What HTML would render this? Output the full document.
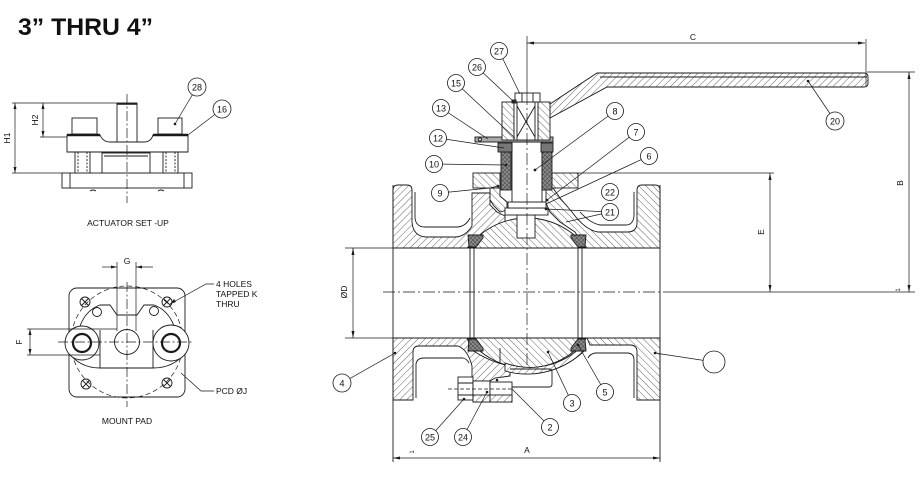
<!DOCTYPE html>
<html><head><meta charset="utf-8"><style>
html,body{margin:0;padding:0;background:#fff;}
svg{display:block;}
text{font-family:"Liberation Sans",Arial,sans-serif;fill:#111;}
</style></head><body>
<svg width="920" height="478" viewBox="0 0 920 478" xmlns="http://www.w3.org/2000/svg">
<defs>
<pattern id="hf" width="5" height="5" patternUnits="userSpaceOnUse" patternTransform="rotate(45)"><rect width="5" height="5" fill="#fff"/><line x1="0" y1="0" x2="0" y2="5" stroke="#222" stroke-width="0.7"/></pattern>
<pattern id="hb" width="5" height="5" patternUnits="userSpaceOnUse" patternTransform="rotate(-45)"><rect width="5" height="5" fill="#fff"/><line x1="0" y1="0" x2="0" y2="5" stroke="#222" stroke-width="0.7"/></pattern>
<pattern id="dk" width="3" height="3" patternUnits="userSpaceOnUse" patternTransform="rotate(45)"><rect width="3" height="3" fill="#8a8a8a"/><line x1="0" y1="0" x2="0" y2="3" stroke="#333" stroke-width="0.8"/><line x1="0" y1="0" x2="3" y2="0" stroke="#333" stroke-width="0.8"/></pattern>
</defs>
<rect width="920" height="478" fill="#fff"/>

<text x="18" y="35" font-size="24" font-weight="bold" textLength="135" lengthAdjust="spacingAndGlyphs">3” THRU 4”</text>

<!-- ============ ACTUATOR SET-UP ============ -->
<g stroke="#1a1a1a" stroke-width="0.9" fill="none">
  <rect x="62" y="173" width="130" height="15" fill="#fff"/>
  <line x1="70" y1="173" x2="70" y2="188"/>
  <line x1="184" y1="173" x2="184" y2="188"/>
  <path d="M90,191 q3,-2 6,0 M158,191 q3,-2 6,0"/>
  <rect x="102" y="153" width="48" height="20" fill="#fff"/>
  <line x1="104" y1="156" x2="148" y2="156"/>
  <rect x="75" y="152" width="15" height="21" fill="#fff"/>
  <line x1="78" y1="152" x2="78" y2="173" stroke-dasharray="2,1.5"/>
  <line x1="87" y1="152" x2="87" y2="173" stroke-dasharray="2,1.5"/>
  <rect x="163" y="152" width="15" height="21" fill="#fff"/>
  <line x1="166" y1="152" x2="166" y2="173" stroke-dasharray="2,1.5"/>
  <line x1="175" y1="152" x2="175" y2="173" stroke-dasharray="2,1.5"/>
  <rect x="117" y="103" width="20" height="40" fill="#fff"/>
  <line x1="117" y1="104" x2="137" y2="104" stroke-width="1.6"/>
  <path d="M67,135 L100,135 Q103,142 110,142 L144,142 Q151,142 153,135 L188,135 L188,152 L67,152 Z" fill="#fff"/>
  <line x1="67" y1="135" x2="100" y2="135" stroke-width="2.6"/>
  <line x1="153" y1="135" x2="188" y2="135" stroke-width="2.6"/>
  <rect x="72" y="118" width="25" height="16" fill="#fff"/>
  <rect x="158" y="118" width="24" height="16" fill="#fff"/>
  <line x1="127" y1="94" x2="127" y2="203" stroke-dasharray="10,2.5,2,2.5" stroke-width="0.7"/>
  <line x1="12" y1="103" x2="117" y2="103" stroke-width="0.7"/>
  <line x1="12" y1="173" x2="62" y2="173" stroke-width="0.7"/>
  <line x1="40" y1="137" x2="67" y2="137" stroke-width="0.7"/>
  <line x1="15" y1="103" x2="15" y2="173" stroke-width="0.7"/>
  <line x1="43" y1="103" x2="43" y2="137" stroke-width="0.7"/>
  <line x1="197" y1="87" x2="175" y2="124" stroke-width="0.7"/>
  <line x1="222" y1="109" x2="188" y2="135" stroke-width="0.7"/>
</g>
<g fill="#1a1a1a">
  <polygon points="15,103 13.5,109 16.5,109"/><polygon points="15,173 13.5,167 16.5,167"/>
  <polygon points="43,103 41.5,109 44.5,109"/><polygon points="43,137 41.5,131 44.5,131"/>
  <circle cx="175" cy="124" r="1.3"/>
</g>
<text x="10" y="138" font-size="8.5" text-anchor="middle" transform="rotate(-90 10 138)">H1</text>
<text x="38" y="120" font-size="8.5" text-anchor="middle" transform="rotate(-90 38 120)">H2</text>
<g stroke="#1a1a1a" stroke-width="0.8" fill="#fff">
  <circle cx="197" cy="87" r="9"/><circle cx="222" cy="109" r="9"/>
</g>
<text x="197" y="90.5" font-size="9" text-anchor="middle">28</text>
<text x="222" y="112.5" font-size="9" text-anchor="middle">16</text>
<text x="128" y="226" font-size="8.5" text-anchor="middle">ACTUATOR SET -UP</text>

<!-- ============ MOUNT PAD ============ -->
<g stroke="#1a1a1a" stroke-width="0.9" fill="none">
  <rect x="69" y="288" width="116" height="109" rx="8"/>
  <circle cx="127" cy="342" r="56" stroke-dasharray="5,3" stroke-width="0.7"/>
  <circle cx="85" cy="302" r="5"/><path d="M81.5,298.5 L88.5,305.5 M88.5,298.5 L81.5,305.5"/>
  <circle cx="167" cy="302" r="5"/><path d="M163.5,298.5 L170.5,305.5 M170.5,298.5 L163.5,305.5"/>
  <circle cx="86" cy="384" r="5"/><path d="M82.5,380.5 L89.5,387.5 M89.5,380.5 L82.5,387.5"/>
  <circle cx="167" cy="383" r="5"/><path d="M163.5,379.5 L170.5,386.5 M170.5,379.5 L163.5,386.5"/>
  <circle cx="97" cy="312" r="4.5"/><circle cx="154" cy="311" r="4.5"/>
  <path d="M80,326 Q86,310 100,305 L110,305 L117,315 L137,315 L144,305 L154,305 Q168,310 174,326"/>
  <path d="M100,330 L100,368 L153,368 L153,330"/>
  <path d="M68,352 Q80,368 100,368 M186,352 Q174,368 153,368"/>
  <circle cx="82" cy="343" r="17" fill="#fff"/>
  <circle cx="82" cy="343" r="9" stroke-width="2.2"/>
  <circle cx="171" cy="343" r="18" fill="#fff"/>
  <circle cx="171" cy="343" r="9" stroke-width="2.2"/>
  <circle cx="127" cy="342" r="12.5" fill="#fff"/>
  <line x1="58" y1="342" x2="193" y2="342" stroke-dasharray="10,2.5,2,2.5" stroke-width="0.7"/>
  <line x1="127" y1="282" x2="127" y2="407" stroke-dasharray="10,2.5,2,2.5" stroke-width="0.7"/>
  <line x1="117" y1="262" x2="117" y2="331" stroke-width="0.7"/>
  <line x1="136" y1="262" x2="136" y2="331" stroke-width="0.7"/>
  <line x1="102" y1="267" x2="117" y2="267" stroke-width="0.7"/>
  <line x1="136" y1="267" x2="153" y2="267" stroke-width="0.7"/>
  <line x1="27" y1="329" x2="117" y2="329" stroke-width="0.7"/>
  <line x1="27" y1="355" x2="100" y2="355" stroke-width="0.7"/>
  <line x1="30" y1="329" x2="30" y2="355" stroke-width="0.7"/>
  <polyline points="214,284 206,284 170,304" stroke-width="0.7"/>
  <polyline points="214,391 201,391 181,373" stroke-width="0.7"/>
</g>
<g fill="#1a1a1a">
  <polygon points="117,267 111,265.5 111,268.5"/><polygon points="136,267 142,265.5 142,268.5"/>
  <polygon points="30,329 28.5,335 31.5,335"/><polygon points="30,355 28.5,349 31.5,349"/>
  <polygon points="170,304 174,299 176,302"/>
</g>
<text x="127" y="264" font-size="8.5" text-anchor="middle">G</text>
<text x="22" y="342" font-size="8" text-anchor="middle" transform="rotate(-90 22 342)">F</text>
<text x="216" y="287" font-size="8.5">4 HOLES</text>
<text x="216" y="297" font-size="8.5">TAPPED K</text>
<text x="216" y="307" font-size="8.5">THRU</text>
<text x="216" y="394" font-size="8.5">PCD ØJ</text>
<text x="127" y="424" font-size="8.5" text-anchor="middle">MOUNT PAD</text>

<!-- ============ MAIN VALVE ============ -->
<g stroke="#1a1a1a" stroke-width="0.9">
  <path fill="url(#hf)" d="M393,248 L393,190 Q393,185 398,185 L407,185 Q412,185 412,190 L412,222 Q413,236 426,237 L456,237 Q466,236 472,226 L472,193 L490,193 L490,205 L497,212 L505,216 L505,226 L495,232 L484,236 L470,248 Z"/>
  <path fill="url(#hb)" d="M660,248 L660,190 Q660,185 655,185 L642,185 Q637,185 637,190 L637,224 Q636,232 628,232 L598,232 Q585,230 572,212 L560,198 L553,188 L546,188 L546,203 L550,212 L560,222 L575,232 L585,248 Z"/>
  <rect x="473" y="173" width="27" height="15" fill="url(#hb)"/>
  <rect x="552" y="173" width="26" height="15" fill="url(#hb)"/>
  <path fill="url(#hb)" d="M490,188 L500,188 L500,196 L507,202 L507,210 L500,212 L494,206 L490,200 Z"/>
  <path fill="url(#hb)" d="M467.5,248 A74,74 0 0 1 586.5,248 Z"/>
  <path fill="url(#hf)" d="M393,338 L467,338 L472,350 Q490,362 510,366 L510,376 L495,378 L490,381 L472,381 L472,366 Q468,350 458,346 L419,346 Q413,346 413,352 L413,400 L393,400 Z"/>
  <path fill="url(#hb)" d="M660,338 L587,338 L590,345 L630,345 Q637,345 637,352 L637,400 L660,400 Z"/>
  <path fill="url(#hb)" d="M467.5,338 A74,74 0 0 0 586.5,338 Z"/>
  <path fill="url(#hf)" d="M505,363 A74,74 0 0 0 583,345 L586,349 A82,82 0 0 1 505,371 Z"/>
  <path fill="url(#dk)" d="M468,235 L483,235 L483,238 L476,247 L469,247 Z"/>
  <path fill="url(#dk)" d="M586,235 L571,235 L571,238 L578,247 L585,247 Z"/>
  <path fill="url(#dk)" d="M468,351 L483,351 L483,348 L476,339 L469,339 Z"/>
  <path fill="url(#dk)" d="M586,351 L571,351 L571,348 L578,339 L585,339 Z"/>
</g>
<g stroke="#1a1a1a" stroke-width="0.9" fill="none">
  <line x1="393" y1="248" x2="660" y2="248"/>
  <line x1="393" y1="338" x2="660" y2="338"/>
  <line x1="393" y1="185" x2="393" y2="462"/>
  <line x1="660" y1="185" x2="660" y2="462"/>
  <line x1="470" y1="247" x2="470" y2="339"/>
  <line x1="474" y1="247" x2="474" y2="339"/>
  <line x1="578" y1="247" x2="578" y2="339"/>
  <line x1="582" y1="247" x2="582" y2="339"/>
  <path d="M415,192 L415,218 Q416,227 425,227 L458,227 Q466,226 470,218"/>
  <path d="M634,192 L634,216 Q633,225 626,225 L600,225 Q590,223 580,212"/>
  <path d="M416,398 L416,364 Q417,358 424,358 L463,358 Q467,359 469,363"/>
  <path d="M634,398 L634,360 Q634,353 627,353 L595,353 Q590,354 588,358"/>
  <path d="M510,369 L549,369 Q552,369 552,372 L552,384 Q552,387 549,387 L512,387"/>
  <line x1="500" y1="348" x2="500" y2="363"/>
  <rect x="517" y="215" width="18" height="23" fill="#fff"/>
  <rect x="505" y="208" width="43" height="7" fill="#fff"/>
  <rect x="508" y="202" width="38" height="6" fill="#fff"/>
  <rect x="512" y="142" width="30" height="60" fill="#fff"/>
  <rect x="501" y="152" width="10" height="38" fill="url(#dk)"/>
  <rect x="542" y="152" width="10" height="38" fill="url(#dk)"/>
  <rect x="498" y="143" width="14" height="9" fill="#777"/>
  <rect x="541" y="143" width="12" height="9" fill="#777"/>
  <rect x="475" y="137" width="78" height="5" fill="#aaa"/>
  <circle cx="480" cy="139.5" r="1.5" fill="#fff"/>
  <path fill="url(#hf)" d="M550,104 L597,73 L864,73 Q868,73 868,77 L868,83 Q868,87 864,87 L607,87 L550,118 Z"/>
  <line x1="600" y1="77" x2="867" y2="77"/>
  <rect x="502" y="102" width="12" height="38" fill="url(#hb)"/>
  <rect x="538" y="102" width="12" height="38" fill="url(#hb)"/>
  <rect x="514" y="102" width="24" height="38" fill="#fff"/>
  <path d="M517,102 L517,140 M535,102 L535,140 M517,106 L535,137 M535,106 L517,137"/>
  <rect x="515" y="93" width="25" height="9" fill="#fff"/>
  <path d="M522,93 L522,102 M533,93 L533,102"/>
  <rect x="512" y="100" width="4" height="3" fill="#333"/>
  <rect x="458" y="377" width="15" height="23" fill="#fff"/>
  <path d="M458,383 L473,383 M458,395 L473,395"/>
  <rect x="473" y="381" width="17" height="21" fill="#fff"/>
  <rect x="473" y="395" width="17" height="7" fill="url(#hf)"/>
  <rect x="490" y="382" width="22" height="20" fill="#fff"/>
  <rect x="490" y="395" width="22" height="7" fill="url(#hf)"/>
  <line x1="448" y1="389" x2="514" y2="389" stroke-dasharray="4,2" stroke-width="0.7"/>
  <line x1="527" y1="36" x2="527" y2="93" stroke-width="0.7"/>
  <line x1="527" y1="93" x2="527" y2="368" stroke-dasharray="12,3,2,3" stroke-width="0.7"/>
  <line x1="383" y1="292" x2="665" y2="292" stroke-dasharray="12,3,2,3" stroke-width="0.7"/>
  <line x1="665" y1="292" x2="915" y2="292" stroke-width="0.8"/>
  <line x1="527" y1="43" x2="865" y2="43" stroke-width="0.7"/>
  <line x1="866" y1="39" x2="866" y2="87" stroke-width="0.7"/>
  <line x1="867" y1="72" x2="915" y2="72" stroke-width="0.8"/>
  <line x1="909" y1="72" x2="909" y2="292" stroke-width="0.7"/>
  <line x1="578" y1="173" x2="774" y2="173" stroke-width="0.8"/>
  <line x1="770" y1="173" x2="770" y2="292" stroke-width="0.7"/>
  <line x1="345" y1="248" x2="393" y2="248" stroke-width="0.7"/>
  <line x1="345" y1="338" x2="393" y2="338" stroke-width="0.7"/>
  <line x1="353" y1="248" x2="353" y2="338" stroke-width="0.7"/>
  <line x1="393" y1="458" x2="660" y2="458" stroke-width="0.7"/>
</g>
<g fill="#1a1a1a">
  <polygon points="527,43 534,41.5 534,44.5"/><polygon points="865,43 858,41.5 858,44.5"/>
  <polygon points="909,72 907.5,79 910.5,79"/><polygon points="909,292 907.5,285 910.5,285"/>
  <polygon points="770,173 768.5,180 771.5,180"/><polygon points="770,292 768.5,285 771.5,285"/>
  <polygon points="353,248 351.5,255 354.5,255"/><polygon points="353,338 351.5,331 354.5,331"/>
  <polygon points="393,458 400,456.5 400,459.5"/><polygon points="660,458 653,456.5 653,459.5"/>
</g>
<text x="693" y="40" font-size="8.5" text-anchor="middle">C</text>
<text x="903" y="183" font-size="8.5" text-anchor="middle" transform="rotate(-90 903 183)">B</text>
<text x="764" y="232" font-size="8.5" text-anchor="middle" transform="rotate(-90 764 232)">E</text>
<text x="347" y="292" font-size="8.5" text-anchor="middle" transform="rotate(-90 347 292)">ØD</text>
<text x="527" y="453" font-size="8.5" text-anchor="middle">A</text>
<text x="414" y="452" font-size="6" text-anchor="middle" transform="rotate(-90 414 452)">1</text>
<text x="900" y="290" font-size="6" text-anchor="middle" transform="rotate(-90 900 290)">1</text>

<g stroke="#1a1a1a" stroke-width="0.7" fill="none">
  <line x1="499" y1="51" x2="520" y2="94"/>
  <line x1="477" y1="67" x2="514" y2="102"/>
  <line x1="456" y1="83" x2="515" y2="138"/>
  <line x1="441" y1="108" x2="488" y2="139"/>
  <line x1="438" y1="138" x2="504" y2="148"/>
  <line x1="434" y1="164" x2="506" y2="165"/>
  <polyline points="440,193 490,188 498,186"/>
  <line x1="615" y1="111" x2="535" y2="170"/>
  <line x1="636" y1="132" x2="547" y2="200"/>
  <line x1="649" y1="156" x2="546" y2="204"/>
  <line x1="610" y1="212" x2="546" y2="209"/>
  <line x1="610" y1="212" x2="566" y2="222"/>
  <line x1="835" y1="121" x2="808" y2="81"/>
  <line x1="342" y1="383" x2="395" y2="353"/>
  <line x1="430" y1="437" x2="464" y2="399"/>
  <line x1="463" y1="437" x2="487" y2="392"/>
  <line x1="550" y1="427" x2="512" y2="389"/>
  <line x1="572" y1="403" x2="548" y2="352"/>
  <line x1="605" y1="392" x2="578" y2="345"/>
  <line x1="714" y1="362" x2="655" y2="353"/>
</g>
<g fill="#1a1a1a">
  <circle cx="506" cy="165" r="1.3"/><circle cx="498" cy="186" r="1.3"/>
  <circle cx="535" cy="170" r="1.4"/><circle cx="547" cy="200" r="1.3"/>
  <circle cx="546" cy="209" r="1.3"/><circle cx="808" cy="81" r="1.3"/>
  <circle cx="395" cy="353" r="1.3"/><circle cx="464" cy="399" r="1.3"/>
  <circle cx="487" cy="392" r="1.3"/><circle cx="548" cy="352" r="1.3"/>
  <circle cx="578" cy="345" r="1.3"/><circle cx="655" cy="353" r="1.3"/>
  <circle cx="497" cy="380" r="1.3"/>
</g>
<g stroke="#1a1a1a" stroke-width="0.8" fill="#fff">
  <circle cx="499" cy="51" r="8.5"/><circle cx="477" cy="67" r="8.5"/>
  <circle cx="456" cy="83" r="8.5"/><circle cx="441" cy="108" r="8.5"/>
  <circle cx="438" cy="138" r="8.5"/><circle cx="434" cy="164" r="8.5"/>
  <circle cx="440" cy="193" r="8.5"/><circle cx="615" cy="111" r="8.5"/>
  <circle cx="636" cy="132" r="8.5"/><circle cx="649" cy="156" r="8.5"/>
  <circle cx="610" cy="192" r="8.5"/><circle cx="610" cy="212" r="8.5"/>
  <circle cx="835" cy="121" r="9"/><circle cx="342" cy="383" r="9"/>
  <circle cx="430" cy="437" r="8.5"/><circle cx="463" cy="437" r="8.5"/>
  <circle cx="550" cy="427" r="8.5"/><circle cx="572" cy="403" r="8.5"/>
  <circle cx="605" cy="392" r="8.5"/><circle cx="714" cy="362" r="11"/>
</g>
<g font-size="9" text-anchor="middle">
  <text x="499" y="54.5">27</text><text x="477" y="70.5">26</text>
  <text x="456" y="86.5">15</text><text x="441" y="111.5">13</text>
  <text x="438" y="141.5">12</text><text x="434" y="167.5">10</text>
  <text x="440" y="196.5">9</text><text x="615" y="114.5">8</text>
  <text x="636" y="135.5">7</text><text x="649" y="159.5">6</text>
  <text x="610" y="195.5">22</text><text x="610" y="215.5">21</text>
  <text x="835" y="124.5">20</text><text x="342" y="386.5">4</text>
  <text x="430" y="440.5">25</text><text x="463" y="440.5">24</text>
  <text x="550" y="430.5">2</text><text x="572" y="406.5">3</text>
  <text x="605" y="395.5">5</text>
</g>
</svg>
</body></html>
